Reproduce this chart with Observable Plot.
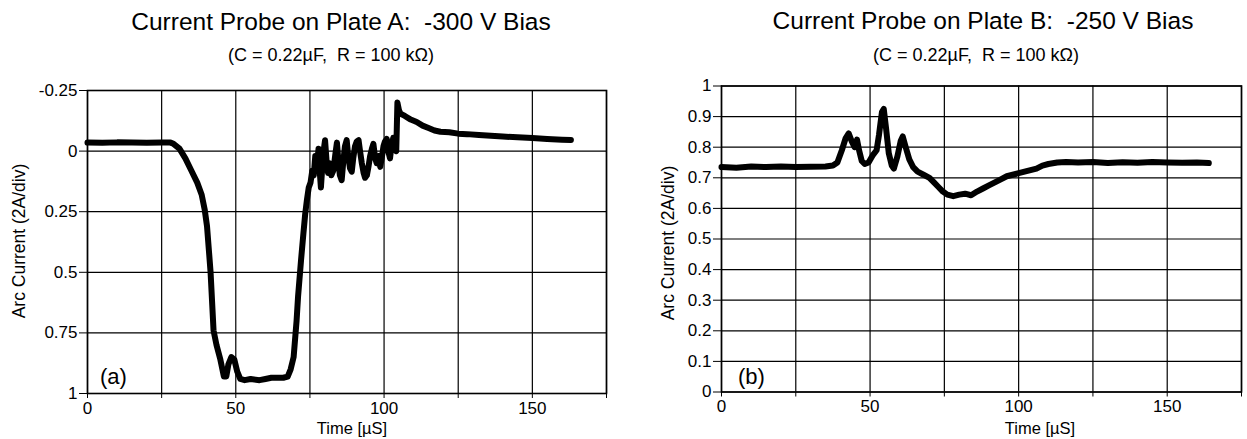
<!DOCTYPE html>
<html>
<head>
<meta charset="utf-8">
<script src="https://cdn.jsdelivr.net/npm/d3@7"></script>
<script src="https://cdn.jsdelivr.net/npm/@observablehq/plot@0.6"></script>
<style>
  html, body { margin: 0; padding: 0; background: #fff; }
  #root { position: relative; width: 1247px; height: 439px; overflow: hidden; font-family: 'Liberation Sans', Arial, sans-serif; color: #000; }
  .abs { position: absolute; white-space: nowrap; }
  .title { font-size: 24.5px; transform: translateX(-50%); }
  .sub { font-size: 18px; transform: translateX(-50%); }
  .ylab { font-size: 17.5px; transform: translate(-50%, -50%) rotate(-90deg); }
  .xlab { font-size: 16.5px; transform: translate(-50%, -50%); }
  .tag { font-size: 22px; }
  .plotbox { position: absolute; top: 70px; }
</style>
</head>
<body>
<div id="root">
  <div class="abs title" style="left:341px; top:8px;">Current Probe on Plate A:&nbsp; -300 V Bias</div>
  <div class="abs sub" style="left:331px; top:45px;">(C = 0.22µF,&nbsp; R = 100 kΩ)</div>
  <div class="abs title" style="left:983px; top:7px;">Current Probe on Plate B:&nbsp; -250 V Bias</div>
  <div class="abs sub" style="left:976px; top:45px;">(C = 0.22µF,&nbsp; R = 100 kΩ)</div>
  <div id="plotA" class="plotbox" style="left:0px;"></div>
  <div id="plotB" class="plotbox" style="left:620px;"></div>
  <div class="abs ylab" style="left:19px; top:241px;">Arc Current (2A/div)</div>
  <div class="abs ylab" style="left:668px; top:243px;">Arc Current (2A/div)</div>
  <div class="abs xlab" style="left:352px; top:428px;">Time [µS]</div>
  <div class="abs xlab" style="left:1040px; top:428px;">Time [µS]</div>
  <div class="abs tag" style="left:100px; top:364px;">(a)</div>
  <div class="abs tag" style="left:738px; top:364px;">(b)</div>
</div>
<script>
// ---- Data: Plate A (-300 V bias) ----
const timeA = [0, 5, 10, 15, 20, 25, 28, 29, 31, 33, 35, 37, 38.5, 39.5, 40.3, 41, 41.5, 42, 42.5, 43.5, 44.8, 46, 46.8, 47.5, 48.5, 49.5, 50.5, 51.5, 53, 55, 58, 60, 62, 64, 66, 67.5, 68.5, 69.5, 70.5, 71, 72, 72.8, 73.4, 74, 74.6, 75.2, 75.8,
  76.3, 76.8, 77.3, 77.9, 78.4, 78.7, 79.2, 79.6, 80.1, 80.6, 81.1, 81.6, 82.2, 82.9, 83.5, 84.1, 84.6, 85.1, 85.7, 86.2, 86.8, 87.4, 87.9, 88.5, 89.1, 89.6, 90.2, 90.8, 91.4, 91.9, 92.5, 93.1, 93.6, 94.2, 94.8, 95.3, 95.9, 96.4, 97, 97.5, 98.1, 98.7, 99.2, 99.8, 100.3, 100.9, 101.4, 102, 102.5, 103.1, 103.6, 104.1,
  104.3, 104.5, 105, 105.5, 107, 109, 111, 113, 115, 117, 119, 122, 125, 128, 132, 136, 140, 145, 150, 155, 160, 163];
const currentA = [-0.035, -0.034, -0.036, -0.035, -0.034, -0.035, -0.035, -0.03, -0.01, 0.03, 0.08, 0.13, 0.18, 0.24, 0.31, 0.42, 0.5, 0.62, 0.74, 0.8, 0.86, 0.93, 0.93, 0.88, 0.85, 0.86, 0.91, 0.94, 0.945, 0.94, 0.945, 0.94, 0.935, 0.935, 0.935, 0.93, 0.9, 0.85, 0.7, 0.6, 0.45, 0.34, 0.26, 0.2, 0.15, 0.13, 0.08,
  0.1, 0.02, 0.07, -0.01, 0.1, 0.15, 0.06, 0.0, -0.045, 0.04, 0.09, 0.05, 0.1, 0.08, 0.02, -0.035, 0.04, 0.1, 0.12, 0.05, -0.02, -0.045, 0.02, 0.07, 0.085, 0.03, -0.02, -0.04, -0.045, 0.0, 0.05, 0.09, 0.11, 0.1, 0.06, 0.02, -0.01, -0.03, 0.03, 0.05, 0.02, 0.065, 0.03, -0.02, -0.04, -0.05, 0.0, 0.03, -0.02, -0.055, -0.01, 0.0,
  -0.1, -0.2, -0.17, -0.155, -0.145, -0.13, -0.12, -0.105, -0.095, -0.085, -0.08, -0.078, -0.072, -0.07, -0.066, -0.063, -0.06, -0.057, -0.054, -0.05, -0.047, -0.046];

// ---- Data: Plate B (-250 V bias) ----
const timeB = [0, 5, 10, 15, 20, 25, 30, 35, 37.5, 39, 40.5, 41.8, 42.8, 43.8, 44.8, 45.6, 46.3, 47.2, 48.2, 49.5, 51, 52.2, 53, 54, 54.6, 55.4, 56.3, 57.3, 58, 59.2, 60.3, 61, 62, 63.2, 64.5, 66, 68, 70, 71.5, 73, 74.5, 76, 78, 80, 82, 84, 86, 88, 90, 92, 94, 96, 98, 100, 102, 104, 106, 108, 110, 113, 116, 120, 125, 130, 135, 140, 145, 150, 155, 160, 164];
const currentB = [0.735, 0.733, 0.737, 0.735, 0.737, 0.735, 0.736, 0.737, 0.74, 0.75, 0.79, 0.83, 0.845, 0.82, 0.8, 0.825, 0.79, 0.755, 0.745, 0.75, 0.775, 0.79, 0.84, 0.915, 0.925, 0.86, 0.78, 0.74, 0.73, 0.77, 0.82, 0.835, 0.8, 0.76, 0.735, 0.72, 0.71, 0.7, 0.685, 0.67, 0.655, 0.645, 0.64, 0.645, 0.648, 0.643, 0.655, 0.665, 0.675, 0.685, 0.695, 0.705, 0.71, 0.715, 0.72, 0.725, 0.73, 0.74, 0.745, 0.75, 0.752, 0.75, 0.752, 0.748, 0.751, 0.749, 0.752, 0.75, 0.749, 0.75, 0.748];

// ---- Axis ticks ----
const xTicks = [0, 25, 50, 75, 100, 125, 150, 175];
const xLabelled = [0, 50, 100, 150];
const yTicksA = [-0.25, 0, 0.25, 0.5, 0.75, 1];
const yTicksB = [0, 0.1, 0.2, 0.3, 0.4, 0.5, 0.6, 0.7, 0.8, 0.9, 1];

const dataA = timeA.map((t, i) => ({t, v: currentA[i]}));
const dataB = timeB.map((t, i) => ({t, v: currentB[i]}));

const styleStr = "font-family: 'Liberation Sans', Arial, sans-serif; font-size: 17px; color: #000; background: transparent; overflow: visible;";

function makePlot(data, yDomain, reverse, yTicks, m) {
  return Plot.plot({
    width: m.width, height: 369,
    marginTop: m.top, marginBottom: m.bottom, marginLeft: m.left, marginRight: m.right,
    style: styleStr,
    x: {domain: [0, 175]},
    y: {domain: yDomain, reverse},
    marks: [
      Plot.gridX({ticks: xTicks, stroke: "#000", strokeOpacity: 1, strokeWidth: 1.2}),
      Plot.gridY({ticks: yTicks, stroke: "#000", strokeOpacity: 1, strokeWidth: 1.2}),
      Plot.frame({stroke: "#000", strokeWidth: 1.6}),
      Plot.axisY({ticks: yTicks, tickFormat: d => String(d), tickSize: 8, tickPadding: 2, label: null, fontSize: 17}),
      Plot.axisX({ticks: xTicks, tickFormat: d => xLabelled.includes(d) ? String(d) : "", tickSize: 5, tickPadding: 3, label: null, fontSize: 17}),
      Plot.line(data, {x: "t", y: "v", stroke: "#000", strokeWidth: 6, strokeLinejoin: "round", strokeLinecap: "round"})
    ]
  });
}

document.getElementById("plotA").appendChild(
  makePlot(dataA, [-0.25, 1], true, yTicksA, {width: 620, top: 20, bottom: 46, left: 87, right: 14})
);
document.getElementById("plotB").appendChild(
  makePlot(dataB, [0, 1], false, yTicksB, {width: 627, top: 15.5, bottom: 47.5, left: 101, right: 6})
);
</script>
</body>
</html>
